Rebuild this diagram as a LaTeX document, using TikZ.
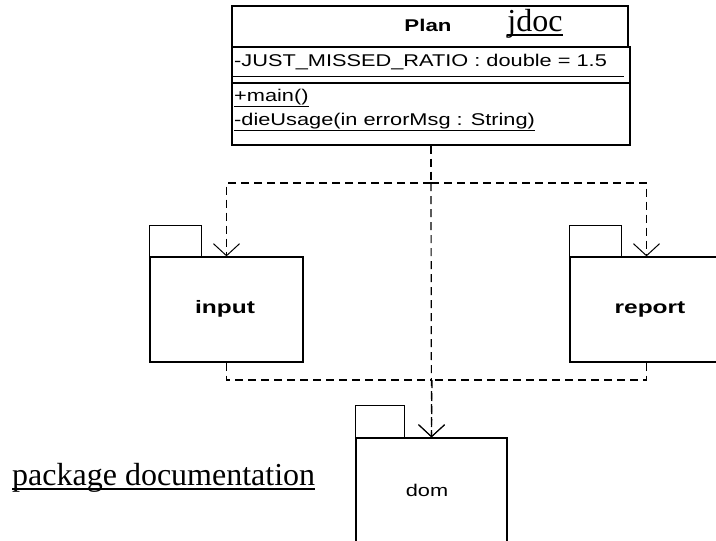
\documentclass[tikz,border=0pt]{standalone}
\usepackage{fontspec}
\usepackage{graphicx}
\setmainfont{Liberation Serif}
\setsansfont{Liberation Sans}
\usetikzlibrary{arrows.meta}
% horizontally widened sans text
\newcommand\wide[2][1.28]{\scalebox{#1}[1]{#2}}
\tikzset{
  outline/.style={draw, line width=1.2pt, inner sep=0pt},
  member/.style={font=\sffamily\fontsize{17}{19}\selectfont, inner sep=0pt, anchor=base west},
  pkgname/.style={font=\sffamily\bfseries\fontsize{18}{20}\selectfont, inner sep=0pt},
  link/.style={font=\fontsize{32}{36}\selectfont, inner sep=0pt},
  linkline/.style={line width=2pt},
  depline/.style={line width=1.2pt, dash pattern=on 8pt off 5pt},
  dep/.style={depline, -{Straight Barb[length=12pt,width=26pt,line width=1pt]}},
}
\begin{document}
\begin{tikzpicture}[x=1pt,y=-1pt]
\clip (0,0) rectangle (716,541);

% class Plan: name compartment, attribute and operation compartments
\node[outline, minimum width=396pt, minimum height=41pt] (planhead) at (430,26.5) {};
\node[outline, minimum width=398pt, minimum height=98pt] (planbody) at (431,96) {};
\draw[line width=1.2pt] (planbody.west |- 0,83) -- (planbody.east |- 0,83);
\node[pkgname, font=\sffamily\bfseries\fontsize{17}{19}\selectfont] (plantitle) at (428,25) {\wide[1.31]{Plan}};
\node[link, anchor=base] (jdoc) at (535,31) {jdoc};
\draw[linkline] ([yshift=-4pt]jdoc.base west) -- ([yshift=-4pt]jdoc.base east);
% static attribute, underlined
\node[member] (attr) at (234,66) {\wide{-JUST\_MISSED\_RATIO : double = 1.5}};
\draw[line width=1pt] (planbody.west |- 0,76) -- (624,76);
\node[member] (opmain) at (234,101) {\wide{\underline{+main()}}};
\node[member] (opdie) at (234,125) {\wide{\underline{-dieUsage(in errorMsg : String)}}};

% packages: body with a tab on its upper left corner
\node[outline, minimum width=153pt, minimum height=105pt] (input) at (226.5,309.5) {};
\draw[line width=1.2pt] (input.north west) rectangle ++(52,-31);
\node[pkgname] (inputname) at (225,309) {\wide[1.36]{input}};

\node[outline, minimum width=153pt, minimum height=105pt] (report) at (646.5,309.5) {};
\draw[line width=1.2pt] (report.north west) rectangle ++(52,-31);
\node[pkgname] (reportname) at (650,309) {\wide[1.36]{report}};

\node[outline, minimum width=151pt, minimum height=120pt] (dom) at (431.5,498) {};
\draw[line width=1.2pt] (dom.north west) rectangle ++(49,-32);
\node[member, anchor=center] (domname) at (427,490) {\wide{dom}};

% note text, underlined as a link
\node[link, anchor=base west] (pkgdoc) at (12,485) {package documentation};
\draw[linkline] ([yshift=-4pt]pkgdoc.base west) -- ([yshift=-4pt]pkgdoc.base east);

% dependencies
\coordinate (j) at (431,183);
\coordinate (k) at (432,380);
\draw[depline] (planbody.south) -- (j);
\draw[dep] (j) -| (input.north);
\draw[dep] (j) -| (report.north);
\draw[dep] (j) -- (dom.north);
\draw[depline] (input.south) |- (k);
\draw[depline] (report.south) |- (k);
\draw[dep] (k) -- (dom.north);
\end{tikzpicture}
\end{document}
